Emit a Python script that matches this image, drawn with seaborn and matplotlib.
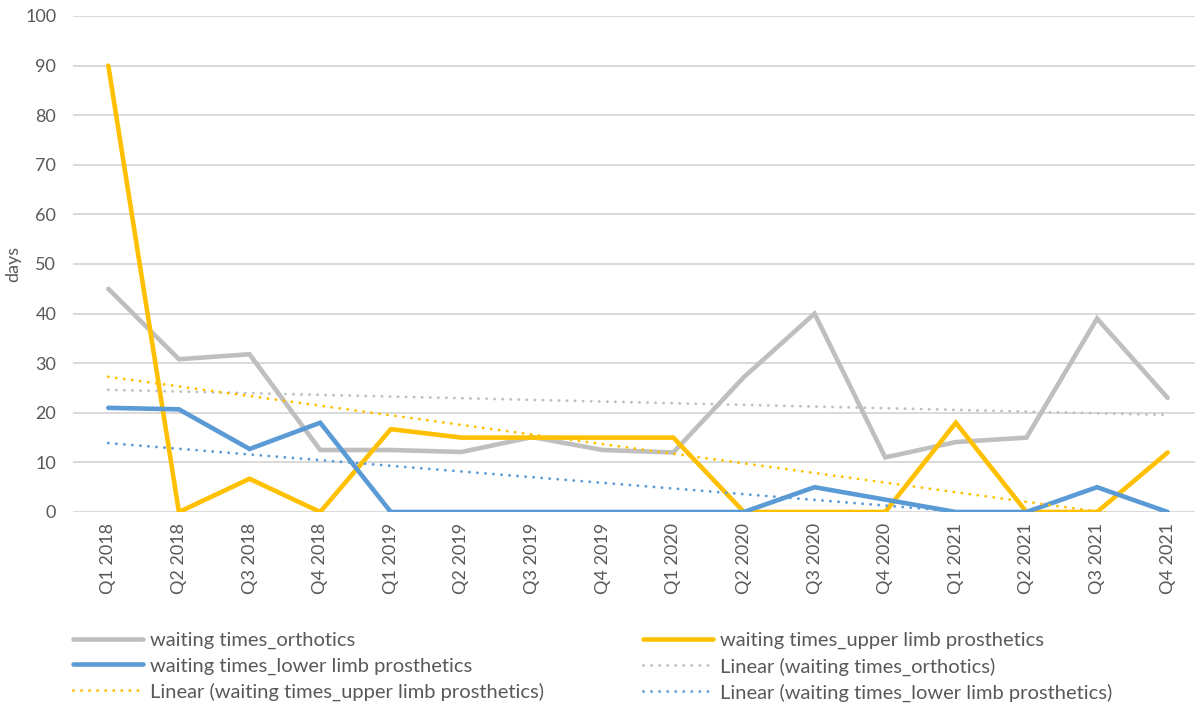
import numpy as np
import pandas as pd
import matplotlib
matplotlib.use("Agg")
import matplotlib.pyplot as plt
import seaborn as sns
from matplotlib.lines import Line2D

quarters = ["Q1 2018", "Q2 2018", "Q3 2018", "Q4 2018",
            "Q1 2019", "Q2 2019", "Q3 2019", "Q4 2019",
            "Q1 2020", "Q2 2020", "Q3 2020", "Q4 2020",
            "Q1 2021", "Q2 2021", "Q3 2021", "Q4 2021"]
orthotics = [45, 30.8, 31.8, 12.5, 12.5, 12.1, 15.1, 12.5,
             12, 27.2, 40, 11, 14.1, 15, 39, 23]
upper_limb = [90, 0, 6.7, 0, 16.7, 15, 15, 15,
              15, 0, 0, 0, 18, 0, 0, 12]
lower_limb = [21, 20.7, 12.7, 18, 0, 0, 0, 0,
              0, 0, 5, 2.5, 0, 0, 5, 0]
series_names = ["waiting times_orthotics",
                "waiting times_upper limb prosthetics",
                "waiting times_lower limb prosthetics"]
colors = ["#BFBFBF", "#FFC000", "#5B9BD5"]

sns.set_theme(style="white")
plt.rcParams["font.family"] = ["Lato", "DejaVu Sans"]

fig = plt.figure(figsize=(11.95, 7.08), dpi=100)
ax = fig.add_axes([73 / 1195, 196 / 708, 1130 / 1195, 496 / 708])

x = np.arange(len(quarters))
df = pd.DataFrame({"x": np.tile(x, 3),
                   "value": orthotics + upper_limb + lower_limb,
                   "series": np.repeat(series_names, len(quarters))})

lw = 3.3
dot_lw = 2.1
dot_pattern = (0.01, 2.75)
for name, c in zip(series_names, colors):
    sub = df[df["series"] == name]
    sns.lineplot(data=sub, x="x", y="value", color=c, linewidth=lw, ax=ax,
                 legend=False, solid_capstyle="round", solid_joinstyle="miter", zorder=3)

# linear trendlines (least-squares fit of each series)
for vals, c in zip([orthotics, upper_limb, lower_limb], colors):
    k, b = np.polyfit(x, np.array(vals, dtype=float), 1)
    tdf = pd.DataFrame({"x": x, "t": k * x + b})
    sns.lineplot(data=tdf, x="x", y="t", color=c, linewidth=dot_lw, ax=ax, legend=False,
                 zorder=4)
    ln = ax.lines[-1]
    ln.set_dashes(dot_pattern)
    ln.set_dash_capstyle("round")

ax.set_xlim(-0.5, 15.5)
ax.set_ylim(0, 100)
ax.set_yticks(np.arange(0, 101, 10))
ax.set_xticks(x)
ax.set_xticklabels(quarters, rotation=90)
ax.tick_params(axis="both", colors="#595959", labelsize=13, length=0, pad=8)
ax.tick_params(axis="y", pad=12)
ax.set_xlabel("")
ax.set_ylabel("days", color="#595959", fontsize=13)
ax.yaxis.set_label_coords(-52 / 1130, 0.5)
ax.grid(axis="y", color="#D9D9D9", linewidth=1.4)
ax.set_axisbelow(True)
for s in ax.spines.values():
    s.set_visible(False)

def solid(c):
    return Line2D([], [], color=c, linewidth=lw, solid_capstyle="round")

def dotted(c):
    l = Line2D([], [], color=c, linewidth=dot_lw, dash_capstyle="round")
    l.set_dashes(dot_pattern)
    return l

col1_h = [solid(colors[0]), solid(colors[2]), dotted(colors[1])]
col1_l = [series_names[0], series_names[2], "Linear (" + series_names[1] + ")"]
col2_h = [solid(colors[1]), dotted(colors[0]), dotted(colors[2])]
col2_l = [series_names[1], "Linear (" + series_names[0] + ")", "Linear (" + series_names[2] + ")"]

leg_kw = dict(frameon=False, fontsize=14.5, labelcolor="#595959", handlelength=3.5,
              handletextpad=0.3, labelspacing=0.39, borderaxespad=0, borderpad=0,
              loc="upper left")
leg1 = fig.legend(col1_h, col1_l, bbox_to_anchor=(73 / 1195, 1 - 632 / 708), **leg_kw)
leg2 = fig.legend(col2_h, col2_l, bbox_to_anchor=(643 / 1195, 1 - 632 / 708), **leg_kw)

fig.savefig("out.png", dpi=100)
